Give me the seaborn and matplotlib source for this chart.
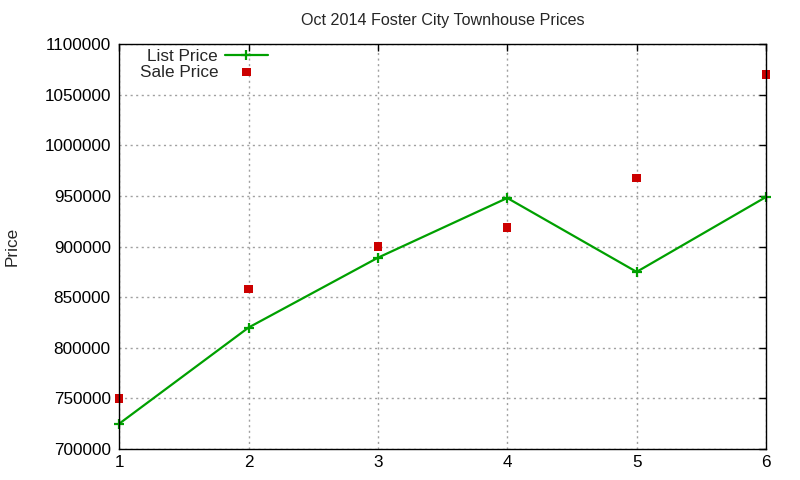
import numpy as np
import pandas as pd
import matplotlib
matplotlib.use("Agg")
import matplotlib.pyplot as plt
import seaborn as sns

months = [1, 2, 3, 4, 5, 6]
list_price = [725000, 820000, 889000, 948000, 875000, 949000]
sale_price = [750000, 858000, 900000, 919000, 968000, 1070000]

df = pd.DataFrame({"month": months, "List Price": list_price, "Sale Price": sale_price})

sns.set_style("white")
plt.rcParams["font.family"] = ["Liberation Sans", "DejaVu Sans"]

fig = plt.figure(figsize=(8, 4.8), dpi=100)
ax = fig.add_axes([0.149, 0.0646, 0.8085, 0.8434])

green = "#00a000"
red = "#cc0000"

sns.lineplot(data=df, x="month", y="List Price", ax=ax, color=green,
             linewidth=1.6, marker="+", markersize=7, markeredgewidth=1.6,
             markeredgecolor=green, markerfacecolor=green,
             label="List Price", clip_on=False, zorder=3)
sns.scatterplot(data=df, x="month", y="Sale Price", ax=ax, color=red,
                marker="s", s=36, edgecolor="none", label="Sale Price",
                clip_on=False, zorder=4)

ax.set_xlim(1, 6)
ax.set_ylim(700000, 1100000)
ax.set_xticks(months)
ax.set_yticks(np.arange(700000, 1100001, 50000))
ax.ticklabel_format(axis="y", style="plain", useOffset=False)
ax.tick_params(direction="in", length=5, labelsize=12.3, top=True, right=True,
               colors="black", width=1)
ax.tick_params(axis="x", pad=4)
ax.tick_params(axis="y", pad=6)
for s in ax.spines.values():
    s.set_color("black")
    s.set_linewidth(1)
    s.set_zorder(5)
ax.grid(True, color="#a0a0a0", linestyle=(0, (1.5, 2.5)), linewidth=1)

ax.set_title("Oct 2014 Foster City Townhouse Prices", fontsize=11.6, pad=14)
ax.set_xlabel("")
ax.set_ylabel("Price", fontsize=12.3, labelpad=18)

ax.legend(loc="upper left", bbox_to_anchor=(0.013, 1.018), frameon=False,
          markerfirst=False, fontsize=12.3, handlelength=2.5, handletextpad=0.4,
          labelspacing=0.05, borderaxespad=0.3)

fig.savefig("out.png", dpi=100)
